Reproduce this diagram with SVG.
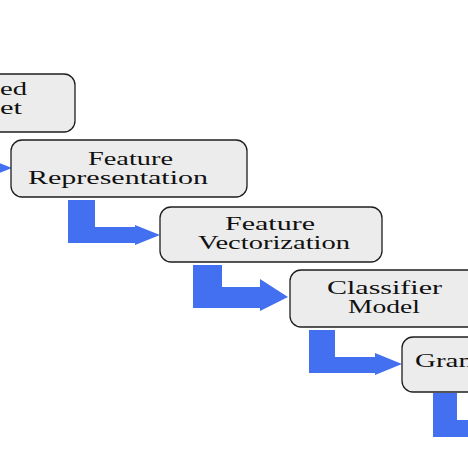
<svg xmlns="http://www.w3.org/2000/svg" width="468" height="468" viewBox="0 0 468 468">
<style>
.box{fill:#ececec;stroke:#1e1e1e;stroke-width:1.3}
.t{font-family:"Liberation Serif","Times New Roman",serif;font-size:18px;fill:#111}
.arr{fill:#4270f0}
</style>
<rect width="468" height="468" fill="#ffffff"/>
<g id="connectors">
<polygon class="arr" points="-13,158 12,168 -13,178"/>
<polygon class="arr" points="68,200 95,200 95,227 135,227 135,225 160,235 135,245 135,243 68,243"/>
<polygon class="arr" points="193,265 222,265 222,287 260,287 260,279 288,297 260,311 260,308 193,308"/>
<polygon class="arr" points="309,330 335,330 335,357 375,357 375,353 402,364 375,375 375,373 309,373"/>
<polygon class="arr" points="433,393 457,393 457,420 470,420 470,437 433,437"/>
</g>
<g id="node1">
<rect class="box" x="-161" y="74" width="236" height="58" rx="11"/>
<text class="t" x="27" y="95" text-anchor="end" textLength="27" lengthAdjust="spacingAndGlyphs">ed</text>
<text class="t" x="22" y="114" text-anchor="end" textLength="22" lengthAdjust="spacingAndGlyphs">et</text>
</g>
<g id="node2">
<rect class="box" x="11" y="140" width="236" height="57" rx="11"/>
<text class="t" x="88" y="165" textLength="85" lengthAdjust="spacingAndGlyphs">Feature</text>
<text class="t" x="28" y="184" textLength="180" lengthAdjust="spacingAndGlyphs">Representation</text>
</g>
<g id="node3">
<rect class="box" x="160" y="207" width="222" height="55" rx="11"/>
<text class="t" x="225" y="230" textLength="90" lengthAdjust="spacingAndGlyphs">Feature</text>
<text class="t" x="198" y="249" textLength="152" lengthAdjust="spacingAndGlyphs">Vectorization</text>
</g>
<g id="node4">
<rect class="box" x="290" y="270" width="222" height="57" rx="11"/>
<text class="t" x="327" y="294" textLength="115" lengthAdjust="spacingAndGlyphs">Classifier</text>
<text class="t" x="348" y="313" textLength="72" lengthAdjust="spacingAndGlyphs">Model</text>
</g>
<g id="node5">
<rect class="box" x="402" y="337" width="222" height="55" rx="11"/>
<text class="t" x="415" y="367" textLength="66" lengthAdjust="spacingAndGlyphs">Gram</text>
</g>
</svg>
